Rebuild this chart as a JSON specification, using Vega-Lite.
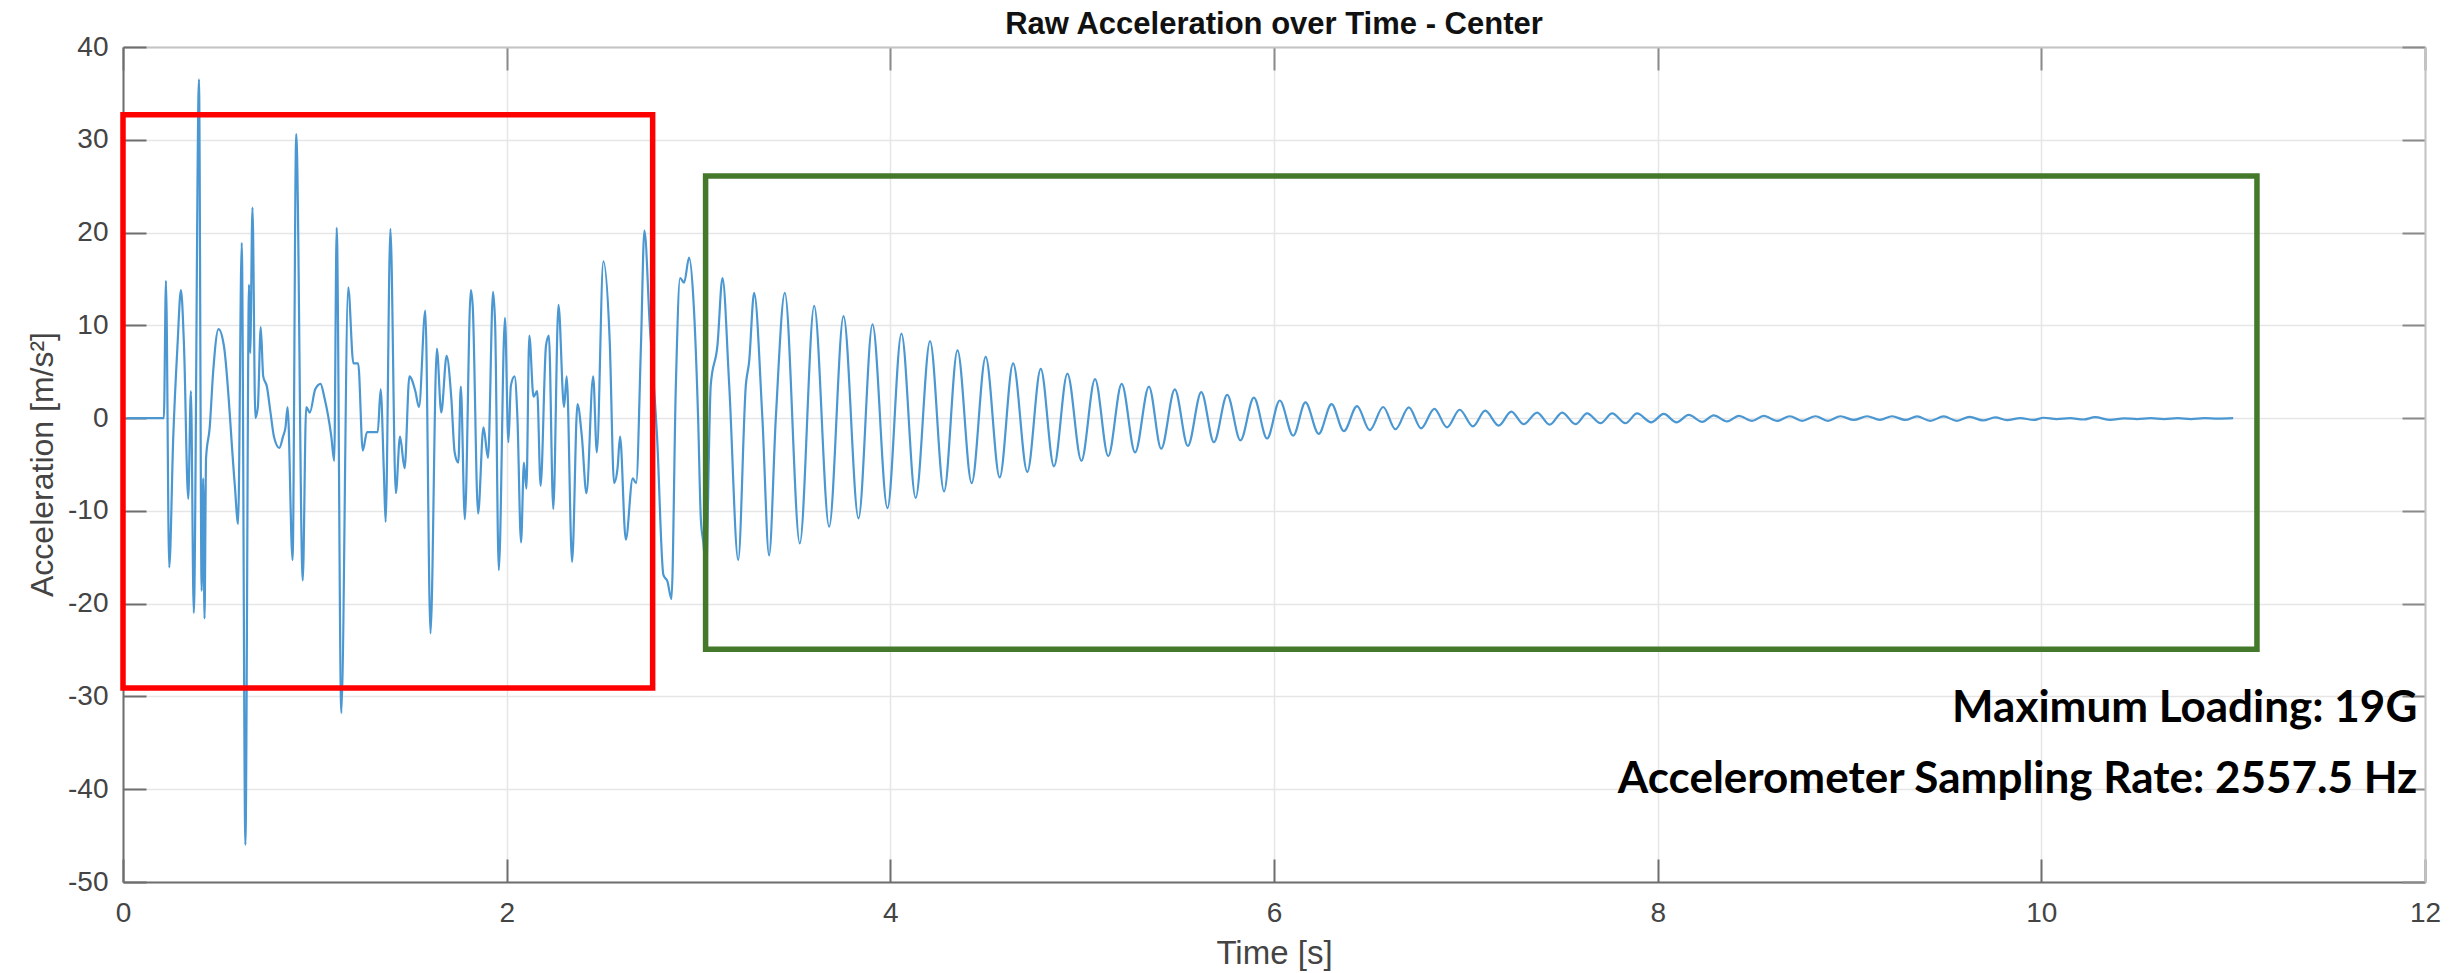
{
  "$schema": "https://vega.github.io/schema/vega-lite/v6.json",
  "width": 2302,
  "height": 835,
  "autosize": {"type": "none"},
  "padding": {"left": 123, "top": 47, "right": 36, "bottom": 91},
  "background": "white",
  "config": {"view": {"stroke": null}, "font": "Liberation Sans"},
  "title": {"text": "Raw Acceleration over Time - Center", "font": "Liberation Sans", "fontSize": 31, "fontWeight": "bold", "color": "#111111", "anchor": "middle", "offset": -8},
  "datasets": {
    "accel": [
      {"t":0.02,"a":0},{"t":0.213,"a":0},{"t":0.224,"a":14.8},{"t":0.241,"a":-16.1},{"t":0.262,"a":-2},{"t":0.284,"a":7.8},{"t":0.302,"a":13.8},{"t":0.318,"a":7.8},{"t":0.34,"a":-8.7},{"t":0.354,"a":2.9},{"t":0.369,"a":-21},{"t":0.396,"a":36.5},{"t":0.41,"a":-18.6},{"t":0.418,"a":-6.5},{"t":0.425,"a":-21.6},{"t":0.433,"a":-4.3},{"t":0.452,"a":-1},{"t":0.47,"a":5},{"t":0.498,"a":9.6},{"t":0.526,"a":7.8},{"t":0.582,"a":-7},{"t":0.6,"a":-11.4},{"t":0.619,"a":18.9},{"t":0.638,"a":-46},{"t":0.657,"a":14.4},{"t":0.663,"a":7},{"t":0.675,"a":22.7},{"t":0.69,"a":0},{"t":0.703,"a":1.2},{"t":0.718,"a":9.8},{"t":0.731,"a":4.5},{"t":0.75,"a":3.4},{"t":0.769,"a":0.6},{"t":0.787,"a":-2},{"t":0.815,"a":-3.2},{"t":0.834,"a":-2},{"t":0.847,"a":-1},{"t":0.858,"a":1.2},{"t":0.884,"a":-15.3},{"t":0.903,"a":30.6},{"t":0.937,"a":-17.5},{"t":0.955,"a":1.2},{"t":0.974,"a":0.6},{"t":1.002,"a":3.1},{"t":1.03,"a":3.7},{"t":1.049,"a":2.3},{"t":1.086,"a":-2},{"t":1.101,"a":-4.6},{"t":1.114,"a":20.5},{"t":1.138,"a":-31.8},{"t":1.174,"a":14.1},{"t":1.201,"a":5.9},{"t":1.226,"a":5.9},{"t":1.25,"a":-3.5},{"t":1.272,"a":-1.5},{"t":1.328,"a":-1.5},{"t":1.343,"a":3.1},{"t":1.36,"a":-5.9},{"t":1.369,"a":-11.2},{"t":1.394,"a":20.4},{"t":1.422,"a":-8.1},{"t":1.444,"a":-2},{"t":1.468,"a":-5.4},{"t":1.493,"a":4.5},{"t":1.524,"a":2.9},{"t":1.543,"a":1.2},{"t":1.576,"a":11.6},{"t":1.603,"a":-23.2},{"t":1.636,"a":7.5},{"t":1.659,"a":0.6},{"t":1.687,"a":6.7},{"t":1.711,"a":2.3},{"t":1.729,"a":-3.7},{"t":1.748,"a":-4.8},{"t":1.761,"a":3.4},{"t":1.782,"a":-10.9},{"t":1.813,"a":13.8},{"t":1.823,"a":12.1},{"t":1.851,"a":-10.3},{"t":1.879,"a":-1},{"t":1.903,"a":-4.3},{"t":1.929,"a":13.6},{"t":1.94,"a":10},{"t":1.959,"a":-16.4},{"t":1.991,"a":10.8},{"t":2.009,"a":-2.6},{"t":2.022,"a":3.5},{"t":2.041,"a":4.5},{"t":2.056,"a":0.1},{"t":2.075,"a":-13.4},{"t":2.09,"a":-4.8},{"t":2.103,"a":-7.6},{"t":2.118,"a":8.9},{"t":2.14,"a":2.3},{"t":2.159,"a":2.9},{"t":2.177,"a":-7.3},{"t":2.205,"a":7.8},{"t":2.22,"a":8.9},{"t":2.243,"a":-9.8},{"t":2.27,"a":12.2},{"t":2.299,"a":1.2},{"t":2.313,"a":4.5},{"t":2.341,"a":-15.5},{"t":2.369,"a":1.5},{"t":2.392,"a":-2},{"t":2.416,"a":-8.1},{"t":2.451,"a":4.5},{"t":2.47,"a":-3.7},{"t":2.504,"a":16.9},{"t":2.537,"a":8.4},{"t":2.56,"a":-7},{"t":2.578,"a":-5.4},{"t":2.591,"a":-2},{"t":2.621,"a":-13.1},{"t":2.657,"a":-6.5},{"t":2.675,"a":-7},{"t":2.7,"a":7.8},{"t":2.718,"a":20.2},{"t":2.746,"a":10},{"t":2.784,"a":-2},{"t":2.817,"a":-16.9},{"t":2.838,"a":-17.6},{"t":2.859,"a":-19.5},{"t":2.882,"a":3.6},{"t":2.904,"a":15.1},{"t":2.925,"a":14.6},{"t":2.951,"a":17.3},{"t":2.974,"a":12.6},{"t":2.998,"a":0},{"t":3.012,"a":-10.8},{"t":3.029,"a":-14.4},{"t":3.037,"a":-18},{"t":3.064,"a":3.6},{"t":3.099,"a":7.9},{"t":3.125,"a":15.1},{"t":3.16,"a":3.6},{"t":3.207,"a":-15.3},{"t":3.247,"a":3.6},{"t":3.264,"a":6.1},{"t":3.29,"a":13.5},{"t":3.333,"a":0},{"t":3.368,"a":-14.8},{"t":3.403,"a":0},{"t":3.45,"a":13.5},{"t":3.528,"a":-13.5},{"t":3.603,"a":12.1},{"t":3.681,"a":-11.7},{"t":3.756,"a":11},{"t":3.834,"a":-10.8},{"t":3.907,"a":10.1},{"t":3.985,"a":-9.7},{"t":4.058,"a":9.1},{"t":4.132,"a":-8.6},{"t":4.207,"a":8.3},{"t":4.28,"a":-7.9},{"t":4.35,"a":7.3},{"t":4.424,"a":-7},{"t":4.497,"a":6.6},{"t":4.57,"a":-6.4},{"t":4.64,"a":5.9},{"t":4.714,"a":-5.8},{"t":4.784,"a":5.3},{"t":4.853,"a":-5.2},{"t":4.923,"a":4.8},{"t":4.996,"a":-4.6},{"t":5.067,"a":4.2},{"t":5.136,"a":-4.1},{"t":5.206,"a":3.7},{"t":5.276,"a":-3.7},{"t":5.348,"a":3.4},{"t":5.412,"a":-3.3},{"t":5.483,"a":3.1},{"t":5.551,"a":-3},{"t":5.621,"a":2.8},{"t":5.687,"a":-2.6},{"t":5.756,"a":2.5},{"t":5.825,"a":-2.4},{"t":5.895,"a":2.2},{"t":5.964,"a":-2.2},{"t":6.03,"a":1.9},{"t":6.1,"a":-1.9},{"t":6.164,"a":1.7},{"t":6.233,"a":-1.7},{"t":6.3,"a":1.5},{"t":6.364,"a":-1.4},{"t":6.433,"a":1.3},{"t":6.499,"a":-1.3},{"t":6.569,"a":1.2},{"t":6.633,"a":-1.2},{"t":6.703,"a":1.15},{"t":6.767,"a":-1.1},{"t":6.836,"a":1},{"t":6.902,"a":-1},{"t":6.968,"a":0.9},{"t":7.037,"a":-0.9},{"t":7.101,"a":0.8},{"t":7.171,"a":-0.8},{"t":7.237,"a":0.7},{"t":7.301,"a":-0.65},{"t":7.372,"a":0.6},{"t":7.437,"a":-0.7},{"t":7.502,"a":0.6},{"t":7.572,"a":-0.65},{"t":7.632,"a":0.5},{"t":7.702,"a":-0.55},{"t":7.763,"a":0.5},{"t":7.832,"a":-0.55},{"t":7.893,"a":0.5},{"t":7.966,"a":-0.45},{"t":8.032,"a":0.45},{"t":8.098,"a":-0.45},{"t":8.162,"a":0.35},{"t":8.232,"a":-0.4},{"t":8.292,"a":0.3},{"t":8.362,"a":-0.35},{"t":8.423,"a":0.25},{"t":8.492,"a":-0.3},{"t":8.553,"a":0.25},{"t":8.623,"a":-0.3},{"t":8.689,"a":0.2},{"t":8.753,"a":-0.3},{"t":8.823,"a":0.2},{"t":8.887,"a":-0.3},{"t":8.953,"a":0.2},{"t":9.022,"a":-0.2},{"t":9.092,"a":0.2},{"t":9.158,"a":-0.2},{"t":9.222,"a":0.2},{"t":9.291,"a":-0.2},{"t":9.352,"a":0.18},{"t":9.421,"a":-0.29},{"t":9.491,"a":0.18},{"t":9.56,"a":-0.29},{"t":9.626,"a":0.14},{"t":9.696,"a":-0.25},{"t":9.76,"a":0.07},{"t":9.821,"a":-0.22},{"t":9.89,"a":0},{"t":9.96,"a":-0.2},{"t":10.012,"a":0.04},{"t":10.08,"a":-0.1},{"t":10.15,"a":0},{"t":10.22,"a":-0.15},{"t":10.28,"a":0.1},{"t":10.36,"a":-0.2},{"t":10.43,"a":-0.03},{"t":10.5,"a":-0.1},{"t":10.57,"a":0},{"t":10.64,"a":-0.1},{"t":10.71,"a":0},{"t":10.78,"a":-0.1},{"t":10.85,"a":0},{"t":10.92,"a":-0.05},{"t":11.0,"a":0}
    ]
  },
  "layer": [
    {
      "data": {"name": "accel"},
      "mark": {"type": "line", "interpolate": "monotone", "color": "#4a97d2", "strokeWidth": 2.2},
      "encoding": {
        "x": {"field": "t", "type": "quantitative",
          "scale": {"domain": [0, 12], "nice": false, "zero": false},
          "axis": {"orient": "bottom", "values": [0, 2, 4, 6, 8, 10, 12], "labelExpr": "datum.value < 0 ? '-' + abs(datum.value) : '' + datum.value", "title": "Time [s]",
            "grid": true, "gridColor": "#e6e6e6", "gridWidth": 1.5,
            "domainColor": "#6e6e6e", "domainWidth": 2, "tickColor": "#6e6e6e", "tickWidth": 2, "tickSize": -23,
            "labelPadding": 40, "labelFont": "Liberation Sans", "labelFontSize": 28, "labelColor": "#444444", "labelFlush": false,
            "titleFont": "Liberation Sans", "titleFontSize": 33, "titleFontWeight": "normal", "titleColor": "#444444",
            "titleY": 71, "titleBaseline": "middle"}},
        "y": {"field": "a", "type": "quantitative",
          "scale": {"domain": [-50, 40], "nice": false},
          "axis": {"orient": "left", "values": [-50, -40, -30, -20, -10, 0, 10, 20, 30, 40], "labelExpr": "datum.value < 0 ? '-' + abs(datum.value) : '' + datum.value", "title": "Acceleration [m/s²]",
            "grid": true, "gridColor": "#e6e6e6", "gridWidth": 1.5,
            "domainColor": "#6e6e6e", "domainWidth": 2, "tickColor": "#6e6e6e", "tickWidth": 2, "tickSize": -23,
            "labelPadding": 38, "labelFont": "Liberation Sans", "labelFontSize": 28, "labelColor": "#444444", "labelFlush": false,
            "titleFont": "Liberation Sans", "titleFontSize": 32, "titleFontWeight": "normal", "titleColor": "#444444",
            "titleX": -81, "titleY": 417, "titleBaseline": "middle", "titleAlign": "center", "titleAngle": -90}}
      }
    },
    {
      "data": {"name": "accel"},
      "mark": {"type": "line", "strokeOpacity": 0},
      "encoding": {
        "x": {"field": "t", "type": "quantitative",
          "axis": {"orient": "top", "values": [0, 2, 4, 6, 8, 10, 12], "labels": false, "title": null, "grid": false,
            "domainColor": "#c4c4c4", "domainWidth": 2, "tickColor": "#8a8a8a", "tickWidth": 2, "tickSize": -23}},
        "y": {"field": "a", "type": "quantitative",
          "axis": {"orient": "right", "values": [-50, -40, -30, -20, -10, 0, 10, 20, 30, 40], "labels": false, "title": null, "grid": false,
            "domainColor": "#c4c4c4", "domainWidth": 2, "tickColor": "#8a8a8a", "tickWidth": 2, "tickSize": -23}}
      }
    },
    {
      "data": {"values": [{"region": "impact"}]},
      "mark": {"type": "rect", "filled": false, "stroke": "#ff0000", "strokeWidth": 5.5},
      "encoding": {
        "x": {"datum": 0, "type": "quantitative", "axis": null},
        "x2": {"datum": 2.761},
        "y": {"datum": 32.7, "type": "quantitative", "axis": null},
        "y2": {"datum": -29.1}
      }
    },
    {
      "data": {"values": [{"region": "free vibration"}]},
      "mark": {"type": "rect", "filled": false, "stroke": "#44782b", "strokeWidth": 5.5},
      "encoding": {
        "x": {"datum": 3.037, "type": "quantitative", "axis": null},
        "x2": {"datum": 11.124},
        "y": {"datum": 26.1, "type": "quantitative", "axis": null},
        "y2": {"datum": -24.9}
      }
    },
    {
      "data": {"values": [{"label": "Maximum Loading: 19G"}]},
      "mark": {"type": "text", "align": "right", "baseline": "middle", "font": "Lato", "fontWeight": "bold", "fontSize": 44, "color": "#000000"},
      "encoding": {
        "x": {"datum": 11.96, "type": "quantitative", "axis": null},
        "y": {"datum": -31.4, "type": "quantitative", "axis": null},
        "text": {"field": "label"}
      }
    },
    {
      "data": {"values": [{"label": "Accelerometer Sampling Rate: 2557.5 Hz"}]},
      "mark": {"type": "text", "align": "right", "baseline": "middle", "font": "Lato", "fontWeight": "bold", "fontSize": 44, "color": "#000000"},
      "encoding": {
        "x": {"datum": 11.96, "type": "quantitative", "axis": null},
        "y": {"datum": -39.0, "type": "quantitative", "axis": null},
        "text": {"field": "label"}
      }
    }
  ],
  "resolve": {"axis": {"x": "independent", "y": "independent"}}
}
